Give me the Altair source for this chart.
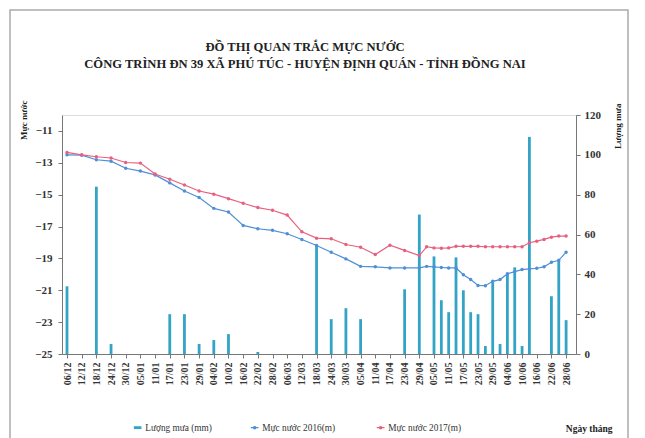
import altair as alt
import pandas as pd

# ---- data ----
dates = ["06/12", "12/12", "18/12", "24/12", "30/12", "05/01", "11/01", "17/01", "23/01", "29/01",
         "04/02", "10/02", "16/02", "22/02", "28/02", "06/03", "12/03", "18/03", "24/03", "30/03",
         "05/04", "11/04", "17/04", "23/04", "29/04", "02/05", "05/05", "08/05", "11/05", "14/05",
         "17/05", "20/05", "23/05", "26/05", "29/05", "01/06", "04/06", "07/06", "10/06", "13/06",
         "16/06", "19/06", "22/06", "25/06", "28/06"]
rain = [34, 0, 84, 5, 0, 0, 0, 20, 20, 5,
        7, 10, 0, 1, 0, 0, 0, 55, 17.5, 23,
        17.5, 0, 0, 32.5, 70, 0, 49, 27, 21, 48.5,
        32, 21, 20, 4, 36, 5, 40, 43.5, 4, 109,
        0, 0, 29, 47, 17]
level_2016 = [-12.50, -12.52, -12.81, -12.90, -13.34, -13.52, -13.76, -14.26, -14.77, -15.18,
              -15.86, -16.09, -16.93, -17.14, -17.24, -17.45, -17.81, -18.19, -18.61, -19.03,
              -19.50, -19.53, -19.60, -19.60, -19.60, -19.50, -19.53, -19.57, -19.60, -19.60,
              -20.02, -20.33, -20.70, -20.71, -20.44, -20.33, -19.96, -19.83, -19.70, -19.66,
              -19.62, -19.53, -19.24, -19.12, -18.61]
level_2017 = [-12.35, -12.50, -12.62, -12.70, -12.98, -13.02, -13.70, -14.03, -14.39, -14.77,
              -14.97, -15.25, -15.54, -15.81, -15.98, -16.28, -17.33, -17.73, -17.77, -18.13,
              -18.30, -18.76, -18.17, -18.50, -18.82, -18.27, -18.34, -18.36, -18.34, -18.24,
              -18.24, -18.24, -18.24, -18.27, -18.27, -18.27, -18.27, -18.27, -18.27, -18.02,
              -17.92, -17.81, -17.67, -17.60, -17.60]
tick_labels = ["06/12", "12/12", "18/12", "24/12", "30/12", "05/01", "11/01", "17/01", "23/01",
               "29/01", "04/02", "10/02", "16/02", "22/02", "28/02", "06/03", "12/03", "18/03",
               "24/03", "30/03", "05/04", "11/04", "17/04", "23/04", "29/04", "05/05", "11/05",
               "17/05", "23/05", "29/05", "04/06", "10/06", "16/06", "22/06", "28/06"]
left_ticks = [-25, -23, -21, -19, -17, -15, -13, -11]
right_ticks = [0, 20, 40, 60, 80, 100, 120]

name_rain = "Lượng mưa (mm)"
name_2016 = "Mực nước 2016(m)"
name_2017 = "Mực nước 2017(m)"

start = pd.Timestamp("2016-12-06")


def to_day(s):
    d, m = s.split("/")
    y = 2016 if int(m) == 12 else 2017
    return (pd.Timestamp(year=y, month=int(m), day=int(d)) - start).days


days = [to_day(s) for s in dates]
tick_days = [to_day(s) for s in tick_labels]

bars_df = pd.DataFrame({"day": days, "rain": rain, "series": name_rain})
lines_df = pd.concat([
    pd.DataFrame({"day": days, "level": level_2016, "series": name_2016}),
    pd.DataFrame({"day": days, "level": level_2017, "series": name_2017}),
])

FONT = "Liberation Serif"
label_expr = "[" + ",".join("'%s'" % t for t in tick_labels) + "][round(datum.value/6)]"

xscale = alt.Scale(domain=[0, 206], nice=False, zero=False)

x_axis = alt.Axis(values=tick_days, labelExpr=label_expr, labelAngle=270, labelFont=FONT,
                  labelFontSize=10, labelFontWeight="bold", labelColor="#333", labelPadding=4,
                  labelOverlap=False, tickSize=4, tickColor="#777", domainColor="#777", grid=False,
                  title="Ngày tháng", titleFont=FONT, titleFontSize=9.5, titleFontWeight="bold",
                  titleColor="#222", titleX=550, titleY=74, titleAlign="right", titleBaseline="middle")

bars = alt.Chart(bars_df).mark_bar(width=2.8).encode(
    x=alt.X("day:Q", scale=xscale, axis=x_axis),
    y=alt.Y("rain:Q", scale=alt.Scale(domain=[0, 120], nice=False),
            axis=alt.Axis(orient="right", values=right_ticks, labelFont=FONT, labelFontSize=11,
                          labelFontWeight="bold", labelColor="#333", labelPadding=4, tickSize=4,
                          tickColor="#777", domainColor="#777", grid=False,
                          title="Lượng mưa", titleFont=FONT, titleFontSize=9, titleFontWeight="bold",
                          titleColor="#222", titleAngle=270, titleX=41, titleY=-12,
                          titleAlign="right", titleBaseline="middle")),
    fill=alt.Fill("series:N", scale=alt.Scale(domain=[name_rain], range=["#33a3c6"]),
                  legend=alt.Legend(title=None, orient="none", legendX=71, legendY=308,
                                    symbolType="M-1.2,-0.45H1.2V0.45H-1.2Z", symbolSize=40,
                                    symbolStrokeWidth=0, labelFont=FONT, labelFontSize=9.3,
                                    labelColor="#333", labelOffset=3)),
)

lines = alt.Chart(lines_df).mark_line(strokeWidth=1.2, point=alt.OverlayMarkDef(filled=True, size=12)).encode(
    x=alt.X("day:Q", scale=xscale, axis=x_axis),
    y=alt.Y("level:Q", scale=alt.Scale(domain=[-25, -10], nice=False, zero=False),
            axis=alt.Axis(orient="left", values=left_ticks, labelFont=FONT, labelFontSize=11,
                          labelFontWeight="bold", labelColor="#333", labelPadding=6, tickSize=4,
                          tickColor="#777", domainColor="#777", grid=False,
                          title="Mực nước", titleFont=FONT, titleFontSize=9, titleFontWeight="bold",
                          titleColor="#222", titleAngle=270, titleX=-39, titleY=-15,
                          titleAlign="right", titleBaseline="middle")),
    color=alt.Color("series:N", scale=alt.Scale(domain=[name_2016, name_2017],
                                                range=["#4f8fd6", "#e8607f"]),
                    legend=alt.Legend(title=None, orient="none", direction="horizontal",
                                      legendX=188, legendY=308, columnPadding=38,
                                      symbolType="M-1,0L1,0M-0.3,0A0.3,0.3 0 1,0 0.3,0A0.3,0.3 0 1,0 -0.3,0",
                                      symbolSize=60, symbolStrokeWidth=1.2,
                                      labelFont=FONT, labelFontSize=9.3, labelColor="#333",
                                      labelOffset=3)),
    detail="series:N",
)

frame = alt.Chart(pd.DataFrame({"a": [0]})).mark_rect(fillOpacity=0, stroke="#aaa", strokeWidth=1.5).encode(
    x=alt.value(-52), x2=alt.value(566), y=alt.value(-105), y2=alt.value(340)
)

chart = alt.layer(frame, bars, lines).resolve_scale(y="independent").properties(
    width=514,
    height=239,
    autosize=alt.AutoSizeParams(type="none"),
    padding={"left": 54, "top": 107, "right": 61, "bottom": 84},
    title=alt.TitleParams(
        text=["ĐỒ THỊ QUAN TRẮC MỰC NƯỚC",
              "CÔNG TRÌNH ĐN 39 XÃ PHÚ TÚC - HUYỆN ĐỊNH QUÁN - TỈNH ĐỒNG NAI"],
        font=FONT, fontSize=12.6, fontWeight="bold", color="#222", anchor="middle",
        frame="group", offset=0, dy=61, dx=-14, lineHeight=17),
).configure_view(stroke="#888", strokeWidth=1).configure(background="white")

chart.save("out.html", embed_options={"renderer": "svg", "actions": False})
